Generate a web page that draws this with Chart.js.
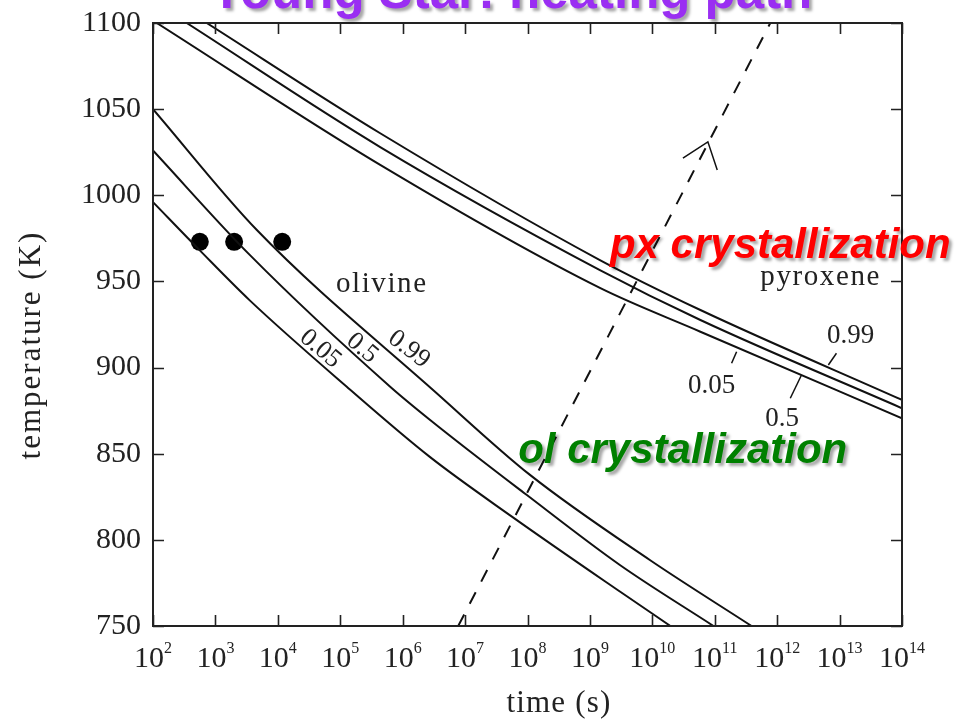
<!DOCTYPE html>
<html><head><meta charset="utf-8">
<script src="https://cdn.jsdelivr.net/npm/chart.js@4/dist/chart.umd.min.js"></script>
<style>html,body{margin:0;padding:0;background:#fff;overflow:hidden}#wrap{width:955px;height:723px}</style>
</head><body><div id="wrap"><canvas id="c" width="955" height="723"></canvas></div>
<script>
// ---- tick values / labels ----
const xTickValues = [2,3,4,5,6,7,8,9,10,11,12,13,14];          // log10(time / s)
const xTickExponents = ['2','3','4','5','6','7','8','9','10','11','12','13','14'];
const yTickValues = [750,800,850,900,950,1000,1050,1100];

// ---- olivine crystallization curves (x = log10 t, y = T in K) ----
const olivine005LogT = [2.00, 2.75, 3.55, 5.10, 6.44, 7.75, 9.48, 10.29];
const olivine005Temp = [996, 968, 939, 889, 848, 813.5, 770, 750];
const olivine05LogT  = [2.00, 3.55, 5.80, 6.44, 7.99, 9.48, 10.98];
const olivine05Temp  = [1026, 965.4, 888.9, 869.6, 826, 785.4, 750];
const olivine099LogT = [2.00, 3.66, 6.55, 8.04, 9.96, 11.59];
const olivine099Temp = [1050, 980, 885, 837.7, 788.3, 750];

// ---- pyroxene crystallization curves ----
const pyroxene005LogT = [2.06, 5.64, 9.16, 10.77, 14.0];
const pyroxene005Temp = [1100, 1017.6, 946.2, 920.8, 870.6];
const pyroxene05LogT  = [2.54, 5.64, 9.16, 10.77, 14.0];
const pyroxene05Temp  = [1100, 1028, 956.6, 927.6, 876.4];
const pyroxene099LogT = [2.86, 5.64, 9.16, 10.77, 14.0];
const pyroxene099Temp = [1100, 1036, 962.4, 933.4, 881.2];

// ---- starting points (filled dots) ----
const dotLogT = [2.75, 3.30, 4.07];
const dotTemp = [973, 973, 973];

// ---- heating path (dashed) and its arrow head ----
const pathLogT = [6.89, 11.89];
const pathTemp = [750, 1100];
const arrowLogT = [10.49, 10.89, 11.04];
const arrowTemp = [1021.6, 1031, 1014.7];

// ---- leader lines of pyroxene labels ----
const leader099LogT = [12.82, 12.95];
const leader099Temp = [901.5, 908.3];
const leader05LogT  = [12.21, 12.39];
const leader05Temp  = [882.2, 895.7];
const leader005LogT = [11.27, 11.35];
const leader005Temp = [902.5, 909.2];

const pts = (xs, ys) => xs.map((v, i) => ({x: v, y: ys[i]}));

const curve = (label, xs, ys) => ({
  label, data: pts(xs, ys), showLine: true, borderColor: '#111', borderWidth: 2,
  pointRadius: 0, cubicInterpolationMode: 'monotone', fill: false
});
const seg = (label, xs, ys) => ({
  label, data: pts(xs, ys), showLine: true, borderColor: '#111', borderWidth: 1.5,
  pointRadius: 0, tension: 0, fill: false
});

// annotation texts (positions in data coordinates)
const textLabels = [
  {text: 'olivine',  x: 4.93,  y: 943.9, font: '29px "Liberation Serif"', spacing: '1.6px', color: '#222'},
  {text: 'pyroxene', x: 11.73, y: 947.9, font: '29px "Liberation Serif"', spacing: '1.6px', color: '#222'},
  {text: '0.99', x: 12.80, y: 914.4, font: '27px "Liberation Serif"', color: '#222'},
  {text: '0.5',  x: 11.81, y: 866.1, font: '27px "Liberation Serif"', color: '#222'},
  {text: '0.05', x: 10.57, y: 885.1, font: '27px "Liberation Serif"', color: '#222'}
];
const rotatedLabels = [
  {text: '0.05', x: 4.68, y: 910.8, angle: 40},
  {text: '0.5',  x: 5.35, y: 911.2, angle: 40},
  {text: '0.99', x: 6.10, y: 910.6, angle: 37}
];
const bigLabels = [
  {text: 'px crystallization', x: 9.32, y: 963.6, color: '#ff0000'},
  {text: 'ol crystallization', x: 7.85, y: 844.6, color: '#008000'}
];

const decor = {
  id: 'decor',
  afterDatasetsDraw(chart) {
    const {ctx, chartArea: a, scales: {x, y}} = chart;
    ctx.save();
    // frame
    ctx.strokeStyle = '#222'; ctx.lineWidth = 2;
    ctx.strokeRect(a.left, a.top, a.right - a.left, a.bottom - a.top);
    // inward ticks
    ctx.lineWidth = 1.6;
    ctx.beginPath();
    xTickValues.forEach(v => {
      const px = Math.round(x.getPixelForValue(v)) + 0.5;
      ctx.moveTo(px, a.bottom); ctx.lineTo(px, a.bottom - 11);
      ctx.moveTo(px, a.top); ctx.lineTo(px, a.top + 11);
    });
    yTickValues.forEach(v => {
      const py = Math.round(y.getPixelForValue(v)) + 0.5;
      ctx.moveTo(a.left, py); ctx.lineTo(a.left + 11, py);
      ctx.moveTo(a.right, py); ctx.lineTo(a.right - 11, py);
    });
    ctx.stroke();

    // x tick labels 10^n
    ctx.fillStyle = '#222'; ctx.textAlign = 'left'; ctx.textBaseline = 'alphabetic';
    xTickValues.forEach((v, i) => {
      const px = x.getPixelForValue(v);
      ctx.font = '30px "Liberation Serif"';
      const w1 = ctx.measureText('10').width;
      ctx.font = '16px "Liberation Serif"';
      const w2 = ctx.measureText(xTickExponents[i]).width;
      const start = px - (w1 + w2) / 2;
      ctx.font = '30px "Liberation Serif"';
      ctx.fillText('10', start, 667);
      ctx.font = '16px "Liberation Serif"';
      ctx.fillText(xTickExponents[i], start + w1, 653);
    });

    // axis titles
    ctx.font = '31px "Liberation Serif"';
    ctx.letterSpacing = '1.2px';
    ctx.textAlign = 'center';
    ctx.fillText('time (s)', 559, 712);
    ctx.save();
    ctx.translate(40, 345); ctx.rotate(-Math.PI / 2);
    ctx.letterSpacing = '2px';
    ctx.fillText('temperature (K)', 0, 0);
    ctx.restore();
    ctx.letterSpacing = '0px';

    // plain labels
    ctx.textAlign = 'left';
    textLabels.forEach(l => {
      ctx.font = l.font; ctx.fillStyle = l.color;
      ctx.letterSpacing = l.spacing || '0px';
      ctx.fillText(l.text, x.getPixelForValue(l.x), y.getPixelForValue(l.y));
    });
    ctx.letterSpacing = '0px';
    // rotated olivine labels
    ctx.font = '26px "Liberation Serif"'; ctx.fillStyle = '#222';
    ctx.textAlign = 'center'; ctx.textBaseline = 'middle';
    rotatedLabels.forEach(l => {
      ctx.save();
      ctx.translate(x.getPixelForValue(l.x), y.getPixelForValue(l.y));
      ctx.rotate(l.angle * Math.PI / 180);
      ctx.fillText(l.text, 0, 0);
      ctx.restore();
    });

    // big coloured labels with shadow
    ctx.textAlign = 'left'; ctx.textBaseline = 'alphabetic';
    ctx.font = 'italic bold 42px "Liberation Sans"';
    ctx.shadowColor = 'rgba(0,0,0,0.35)'; ctx.shadowOffsetX = 3; ctx.shadowOffsetY = 3; ctx.shadowBlur = 3;
    bigLabels.forEach(l => {
      ctx.fillStyle = l.color;
      ctx.fillText(l.text, x.getPixelForValue(l.x), y.getPixelForValue(l.y));
    });
    // title (cut off at the top)
    ctx.font = 'bold 51px "Liberation Sans"';
    ctx.fillStyle = '#9a2ef2';
    ctx.textAlign = 'center';
    ctx.fillText('Young Star: heating path', 511, 8);
    ctx.restore();
  }
};

new Chart(document.getElementById('c'), {
  type: 'scatter',
  data: {
    datasets: [
      curve('olivine 0.05', olivine005LogT, olivine005Temp),
      curve('olivine 0.5', olivine05LogT, olivine05Temp),
      curve('olivine 0.99', olivine099LogT, olivine099Temp),
      curve('pyroxene 0.05', pyroxene005LogT, pyroxene005Temp),
      curve('pyroxene 0.5', pyroxene05LogT, pyroxene05Temp),
      curve('pyroxene 0.99', pyroxene099LogT, pyroxene099Temp),
      {label: 'heating path', data: pts(pathLogT, pathTemp), showLine: true, borderColor: '#111',
       borderWidth: 2, borderDash: [13, 12], pointRadius: 0, tension: 0},
      seg('arrow', arrowLogT, arrowTemp),
      seg('leader 0.99', leader099LogT, leader099Temp),
      seg('leader 0.5', leader05LogT, leader05Temp),
      seg('leader 0.05', leader005LogT, leader005Temp),
      {label: 'start', data: pts(dotLogT, dotTemp), showLine: false, pointRadius: 9,
       pointBackgroundColor: '#000', pointBorderColor: '#000', pointBorderWidth: 0}
    ]
  },
  options: {
    responsive: false, animation: false,
    layout: {padding: {top: 23, right: 53, left: 0, bottom: 0}},
    plugins: {legend: {display: false}, tooltip: {enabled: false}},
    scales: {
      x: {type: 'linear', min: 2, max: 14, grid: {display: false}, border: {display: false},
          ticks: {display: false},
          afterFit: s => { s.height = 97; s.paddingLeft = 0; s.paddingRight = 0; }},
      y: {type: 'linear', min: 750, max: 1100, grid: {display: false, drawTicks: false}, border: {display: false},
          ticks: {stepSize: 50, padding: 12, color: '#222', font: {family: 'Liberation Serif', size: 30},
                  callback: v => String(v)},
          afterFit: s => { s.width = 153; s.paddingTop = 0; s.paddingBottom = 0; }}
    }
  },
  plugins: [decor]
});
</script></body></html>
